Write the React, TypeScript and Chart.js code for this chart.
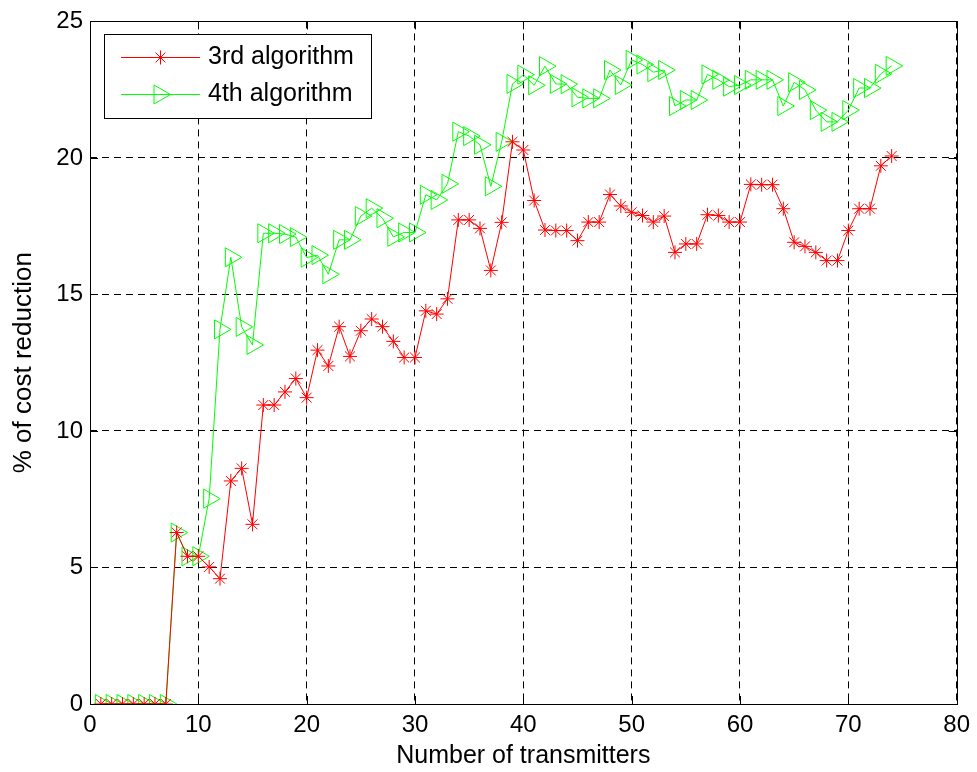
import React, { useEffect, useRef } from "react";
import { Chart, registerables } from "chart.js";

Chart.register(...registerables);

const transmitters = [
  1, 2, 3, 4, 5, 6, 7, 8, 9, 10, 11, 12, 13, 14, 15, 16, 17, 18, 19, 20,
  21, 22, 23, 24, 25, 26, 27, 28, 29, 30, 31, 32, 33, 34, 35, 36, 37, 38, 39, 40,
  41, 42, 43, 44, 45, 46, 47, 48, 49, 50, 51, 52, 53, 54, 55, 56, 57, 58, 59, 60,
  61, 62, 63, 64, 65, 66, 67, 68, 69, 70, 71, 72, 73, 74,
];

const algo3 = [
  0, 0, 0, 0, 0, 0, 0, 6.28, 5.41, 5.41, 5.02, 4.59, 8.17, 8.63, 6.58, 10.95, 10.95, 11.43, 11.92, 11.22,
  12.96, 12.38, 13.82, 12.73, 13.67, 14.1, 13.82, 13.28, 12.69, 12.69, 14.4, 14.28, 14.84, 17.73, 17.73, 17.42, 15.88, 17.64, 20.59, 20.29,
  18.44, 17.36, 17.34, 17.34, 16.97, 17.65, 17.65, 18.66, 18.24, 18.01, 17.89, 17.65, 17.87, 16.54, 16.85, 16.85, 17.92, 17.89, 17.65, 17.65,
  19.03, 19.02, 19.02, 18.14, 16.91, 16.76, 16.54, 16.24, 16.24, 17.34, 18.14, 18.14, 19.71, 20.07,
];

const algo4 = [
  0, 0, 0, 0, 0, 0, 0, 6.28, 5.41, 5.41, 7.52, 13.72, 16.36, 13.81, 13.15, 17.24, 17.24, 17.21, 17.1, 16.35,
  16.44, 15.74, 17.0, 17.0, 17.87, 18.16, 17.79, 17.11, 17.27, 17.27, 18.65, 18.46, 19.05, 20.96, 20.8, 20.48, 18.96, 20.59, 22.71, 23.05,
  22.66, 23.36, 22.71, 22.7, 22.22, 22.18, 22.18, 23.22, 22.67, 23.59, 23.42, 23.14, 23.22, 21.9, 22.12, 22.12, 23.06, 22.86, 22.61, 22.67,
  22.86, 22.86, 22.86, 21.9, 22.77, 22.49, 21.75, 21.32, 21.32, 21.75, 22.56, 22.56, 23.08, 23.37,
];

const seriesLabels = ["3rd algorithm", "4th algorithm"];
const xTitle = "Number of transmitters";
const yTitle = "% of cost reduction";

const FONT = "'Liberation Sans', Arial, Helvetica, sans-serif";
const RED = "#ff0000";
const GREEN = "#00ff00";

function drawStar(ctx: CanvasRenderingContext2D, x: number, y: number, r: number) {
  ctx.beginPath();
  for (let i = 0; i < 4; i++) {
    const a = (i * Math.PI) / 4;
    ctx.moveTo(x - Math.cos(a) * r, y - Math.sin(a) * r);
    ctx.lineTo(x + Math.cos(a) * r, y + Math.sin(a) * r);
  }
  ctx.stroke();
}

function drawTriRight(ctx: CanvasRenderingContext2D, x: number, y: number, r: number) {
  ctx.beginPath();
  for (let i = 0; i < 3; i++) {
    const a = (i * 2 * Math.PI) / 3;
    const px = x + Math.cos(a) * r;
    const py = y + Math.sin(a) * r;
    if (i === 0) ctx.moveTo(px, py);
    else ctx.lineTo(px, py);
  }
  ctx.closePath();
  ctx.stroke();
}

const boxPlugin = {
  id: "boxPlugin",
  afterDraw(chart: any) {
    const { ctx, chartArea } = chart;
    const { left, right, top, bottom } = chartArea;
    const xs = chart.scales.x;
    const ys = chart.scales.y;
    ctx.save();
    ctx.strokeStyle = "#000";
    ctx.lineWidth = 1;
    ctx.setLineDash([]);
    ctx.strokeRect(Math.round(left) + 0.5, Math.round(top) + 0.5, Math.round(right - left), Math.round(bottom - top));
    const tl = 8;
    ctx.beginPath();
    xs.ticks.forEach((t: any) => {
      const px = Math.round(xs.getPixelForValue(t.value)) + 0.5;
      ctx.moveTo(px, bottom);
      ctx.lineTo(px, bottom - tl);
      ctx.moveTo(px, top);
      ctx.lineTo(px, top + tl);
    });
    ys.ticks.forEach((t: any) => {
      const py = Math.round(ys.getPixelForValue(t.value)) + 0.5;
      ctx.moveTo(left, py);
      ctx.lineTo(left + tl, py);
      ctx.moveTo(right, py);
      ctx.lineTo(right - tl, py);
    });
    ctx.stroke();

    // legend
    const bx = 104, by = 34, bw = 267, bh = 84;
    ctx.fillStyle = "#fff";
    ctx.fillRect(bx, by, bw, bh);
    ctx.strokeStyle = "#000";
    ctx.strokeRect(bx + 0.5, by + 0.5, bw, bh);
    const rows = [57, 94];
    const colors = [RED, GREEN];
    ctx.font = `25px ${FONT}`;
    ctx.textBaseline = "middle";
    ctx.textAlign = "left";
    chart.data.datasets.forEach((ds: any, i: number) => {
      const y = rows[i] + 0.5;
      ctx.strokeStyle = colors[i];
      ctx.lineWidth = 1;
      ctx.beginPath();
      ctx.moveTo(121, y);
      ctx.lineTo(200, y);
      ctx.stroke();
      if (i === 0) drawStar(ctx, 160.5, y, 7);
      else drawTriRight(ctx, 159.5, y, 11);
      ctx.fillStyle = "#000";
      ctx.fillText(ds.label, 208, rows[i]);
    });
    ctx.restore();
  },
};

export default function App() {
  const ref = useRef<HTMLCanvasElement | null>(null);
  useEffect(() => {
    if (!ref.current) return;
    Chart.defaults.color = "#000";
    const chart = new Chart(ref.current, {
      type: "line",
      data: {
        datasets: [
          {
            label: seriesLabels[0],
            data: transmitters.map((x, i) => ({ x, y: algo3[i] })),
            borderColor: RED,
            backgroundColor: "transparent",
            borderWidth: 1,
            pointStyle: "star",
            pointRadius: 7,
            pointBorderColor: RED,
            pointBorderWidth: 1,
            pointBackgroundColor: "transparent",
            tension: 0,
            fill: false,
          },
          {
            label: seriesLabels[1],
            data: transmitters.map((x, i) => ({ x, y: algo4[i] })),
            borderColor: GREEN,
            backgroundColor: "transparent",
            borderWidth: 1,
            pointStyle: "triangle",
            pointRotation: 90,
            pointRadius: 11,
            pointBorderColor: GREEN,
            pointBorderWidth: 1,
            pointBackgroundColor: "transparent",
            tension: 0,
            fill: false,
          },
        ],
      },
      options: {
        responsive: false,
        animation: false,
        devicePixelRatio: 1,
        layout: { padding: { left: 0, right: 19, top: 21, bottom: 0 } },
        plugins: { legend: { display: false }, tooltip: { enabled: false } },
        elements: { line: { borderWidth: 1 } },
        scales: {
          x: {
            type: "linear",
            min: 0,
            max: 80,
            ticks: { stepSize: 10, padding: 7, font: { family: FONT, size: 24 }, color: "#000" },
            grid: { color: "#000", lineWidth: 1, drawTicks: false },
            border: { display: false, dash: [7, 5] },
            title: { display: true, text: xTitle, font: { family: FONT, size: 25 }, color: "#000", padding: { top: 0, bottom: 1 } },
            afterFit: (s: any) => { s.height = 68; },
          },
          y: {
            type: "linear",
            min: 0,
            max: 25,
            ticks: { stepSize: 5, padding: 7, font: { family: FONT, size: 24 }, color: "#000" },
            grid: { color: "#000", lineWidth: 1, drawTicks: false },
            border: { display: false, dash: [7, 5] },
            title: { display: true, text: yTitle, font: { family: FONT, size: 26 }, color: "#000", padding: { top: 8, bottom: 0 } },
            afterFit: (s: any) => { s.width = 90; },
          },
        },
      },
      plugins: [boxPlugin],
    } as any);
    return () => chart.destroy();
  }, []);
  return (
    <div style={{ position: "absolute", left: 0, top: 0, width: 977, height: 772, background: "#fff" }}>
      <canvas ref={ref} width={977} height={772} style={{ display: "block" }} />
    </div>
  );
}
